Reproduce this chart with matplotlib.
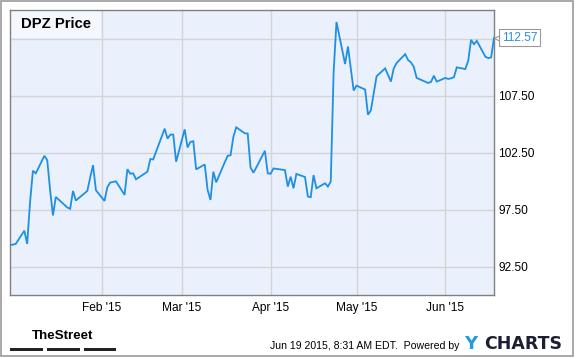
import numpy as np
import pandas as pd
import matplotlib
matplotlib.use("Agg")
import matplotlib.pyplot as plt
import matplotlib.transforms as mtransforms
from matplotlib.patches import Rectangle

# DPZ daily closes, Dec 31 2014 - Jun 18 2015
holidays = ["2015-01-01", "2015-01-19", "2015-02-16", "2015-04-03", "2015-05-25"]
dates = pd.bdate_range("2014-12-31", "2015-06-18").drop(pd.to_datetime(holidays))

prices = [
    94.37, 94.48,
    95.64, 94.48, 98.14, 100.90, 100.67,
    102.21, 101.83, 99.21, 96.98, 98.60,
    97.68, 97.56, 99.13, 98.29,
    98.92, 99.13, 100.32, 101.39, 99.19,
    98.25, 99.47, 99.86, 99.92, 99.97,
    98.78, 101.04, 100.64, 100.67, 100.15,
    100.82, 101.92, 101.89, 102.57,
    104.59, 103.72, 104.07, 104.07, 101.69,
    104.53, 102.94, 103.43, 103.49, 101.02,
    101.45, 99.21, 98.34, 100.82, 99.88,
    101.65, 102.21, 102.26, 103.87, 104.71,
    104.18, 104.16, 101.17, 100.73, 101.19,
    102.65, 100.67, 100.64, 101.10,
    100.96, 99.51, 100.38, 99.36, 100.62,
    100.35, 98.64, 98.58, 100.52, 99.36,
    99.80, 99.51, 99.95, 109.54, 113.95,
    110.26, 111.80, 109.87, 107.93, 108.37,
    108.02, 105.81, 106.19, 107.69, 109.19,
    109.88, 109.30, 108.72, 109.88, 110.35,
    111.13, 110.61, 110.41, 110.00, 109.04,
    108.60, 108.69, 109.24, 108.72,
    109.04, 108.95, 109.01, 109.10, 109.97,
    109.82, 110.55, 112.38, 112.00, 112.29,
    110.90, 110.78, 110.84, 112.57,
]

y_ticks = [92.5, 97.5, 102.5, 107.5, 112.5]
month_ticks = pd.to_datetime(["2015-02-01", "2015-03-01", "2015-04-01", "2015-05-01", "2015-06-01"])
month_labels = ["Feb '15", "Mar '15", "Apr '15", "May '15", "Jun '15"]

plt.rcParams['font.family'] = ['Liberation Sans', 'DejaVu Sans']

W, H = 575, 358
fig = plt.figure(figsize=(W / 100, H / 100), dpi=100)
ax = fig.add_axes([10 / W, (H - 295) / H, 484 / W, 285 / H])
ax.set_facecolor('#eaf1fc')

ax.plot(dates, prices, color='#1f8fe5', lw=1.3, zorder=3, solid_joinstyle='miter')

ax.set_xlim(dates[0], dates[-1])
ax.set_ylim(90.0, 115.0)

ax.set_xticks(month_ticks)
ax.set_xticklabels(month_labels)
ax.yaxis.tick_right()
ax.set_yticks(y_ticks)
ax.set_yticklabels([f"{v:.2f}" for v in y_ticks[:-1]] + [""])
ax.tick_params(axis='both', length=0, labelsize=8.6, colors='black')
ax.tick_params(axis='x', pad=5)
ax.tick_params(axis='y', pad=3)
ax.grid(True, color='#d4d4d4', lw=1)
ax.set_axisbelow(True)
for s in ax.spines.values():
    s.set_color('#808080')
    s.set_linewidth(1)

# title box
ax.add_patch(Rectangle((0, 0.902), 0.188, 0.098, transform=ax.transAxes,
                       fc='#f4f7fe', ec='none', zorder=2))
ax.text(0.0227, 0.951, "DPZ Price", transform=ax.transAxes, fontsize=10.7,
        fontweight='bold', va='center', ha='left', zorder=4)

# last value label
last = prices[-1]
trans = mtransforms.blended_transform_factory(ax.transAxes, ax.transData)
ax.plot([1 + 3 / 484], [last], transform=trans, marker='<', ms=5, mfc='white',
        mec='#999999', mew=0.8, clip_on=False, zorder=5)
ax.annotate(f"{last:.2f}", xy=(1, last), xycoords=trans, xytext=(5.6, 0),
            textcoords='offset points', va='center', ha='left', fontsize=8.6,
            color='#2a8ae6', zorder=6, annotation_clip=False,
            bbox=dict(boxstyle='square,pad=0.22', fc='white', ec='#999999', lw=0.8))

# footer
fig.text(63 / W, 1 - 336 / H, "TheStreet", fontsize=9.6, fontweight='bold',
         ha='center', va='center')
for x0 in [10, 47, 83.5]:
    fig.patches.append(Rectangle((x0 / W, 1 - 350.5 / H), 32.5 / W, 3 / H,
                                 transform=fig.transFigure, fc='#222222', ec='none'))
fig.text(459 / W, 1 - 346 / H, "Jun 19 2015, 8:31 AM EDT.  Powered by", fontsize=7.6,
         ha='right', va='center')
fig.text(464 / W, 1 - 344 / H, "Y", fontsize=13, fontweight='bold', color='#1f9be8',
         family='DejaVu Sans', ha='left', va='center')
fig.text(484 / W, 1 - 344 / H, "CHARTS", fontsize=12.5, fontweight='bold', color='#1c1f33',
         family='DejaVu Sans', ha='left', va='center')

# outer frame
fig.patches.append(Rectangle((0.5 / W, 2 / H), 572 / W, 355.5 / H, transform=fig.transFigure,
                             fill=False, ec='#9a9a9a', lw=1.2))

fig.savefig("out.png", dpi=100)
